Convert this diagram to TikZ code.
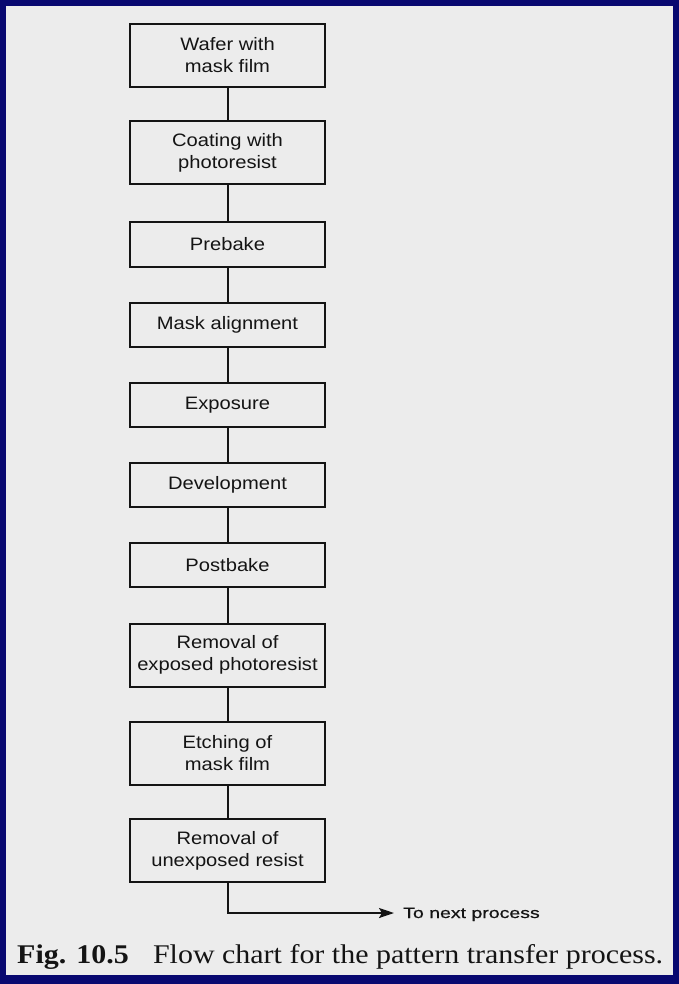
\documentclass[tikz,border=0pt]{standalone}
\usepackage{fontspec}
\setmainfont{Liberation Serif}
\newfontfamily\boxfont[FakeStretch=1.12]{Liberation Sans}
\newfontfamily\nextfont[FakeStretch=1.3,FakeBold=0.6]{Liberation Sans}
\newfontfamily\capfont[FakeStretch=1.11]{Liberation Serif}
\usetikzlibrary{arrows.meta}
\definecolor{navy}{RGB}{8,8,112}
\definecolor{paper}{RGB}{236,236,236}
\definecolor{ink}{RGB}{20,20,20}
\begin{document}
\begin{tikzpicture}[x=1pt,y=-1pt,
  stepbox/.style={draw=ink,line width=2pt,fill=paper,minimum width=195pt,inner sep=0pt,
    align=center,font=\boxfont\fontsize{18}{22}\selectfont,text=ink},
  tall/.style={stepbox,minimum height=63pt},
  short/.style={stepbox,minimum height=44pt},
  link/.style={draw=ink,line width=2pt}]
\fill[navy] (0,0) rectangle (679,984);
\fill[paper] (6,6) rectangle (673,975);
\useasboundingbox (0,0) rectangle (679,984);
\node[tall]  (b1)  at (227.5,55.5) {Wafer with\\mask film};
\node[tall]  (b2)  at (227.5,153) {Coating with\\photoresist};
\node[short] (b3)  at (227.5,244.5) {Prebake};
\node[short] (b4)  at (227.5,324.5) {Mask alignment};
\node[short] (b5)  at (227.5,405) {Exposure};
\node[short] (b6)  at (227.5,484.5) {Development};
\node[short] (b7)  at (227.5,565) {Postbake};
\node[tall]  (b8)  at (227.5,655) {Removal of\\exposed photoresist};
\node[tall]  (b9)  at (227.5,753) {Etching of\\mask film};
\node[tall]  (b10) at (227.5,850.5) {Removal of\\unexposed resist};
\foreach \a/\b in {b1/b2,b2/b3,b3/b4,b4/b5,b5/b6,b6/b7,b7/b8,b8/b9,b9/b10}
  \draw[link] (\a.south) -- (\b.north);
\node[anchor=base west,inner sep=0pt,font=\nextfont\fontsize{15}{18}\selectfont,text=ink] (next) at (403,918) {To next process};
\coordinate (turn) at (227.5,913);
\coordinate (tip) at (394,913);
\draw[link,-{Stealth[length=15pt,width=10pt,inset=3pt]}] (b10.south) -- (turn) -- (tip);
\node[anchor=base west,inner sep=0pt,font=\capfont\fontsize{27}{30}\selectfont,text=ink] (cap) at (17,963)
  {\textbf{Fig. 10.5}\hspace{0.9em}Flow chart for the pattern transfer process.};
\end{tikzpicture}
\end{document}
